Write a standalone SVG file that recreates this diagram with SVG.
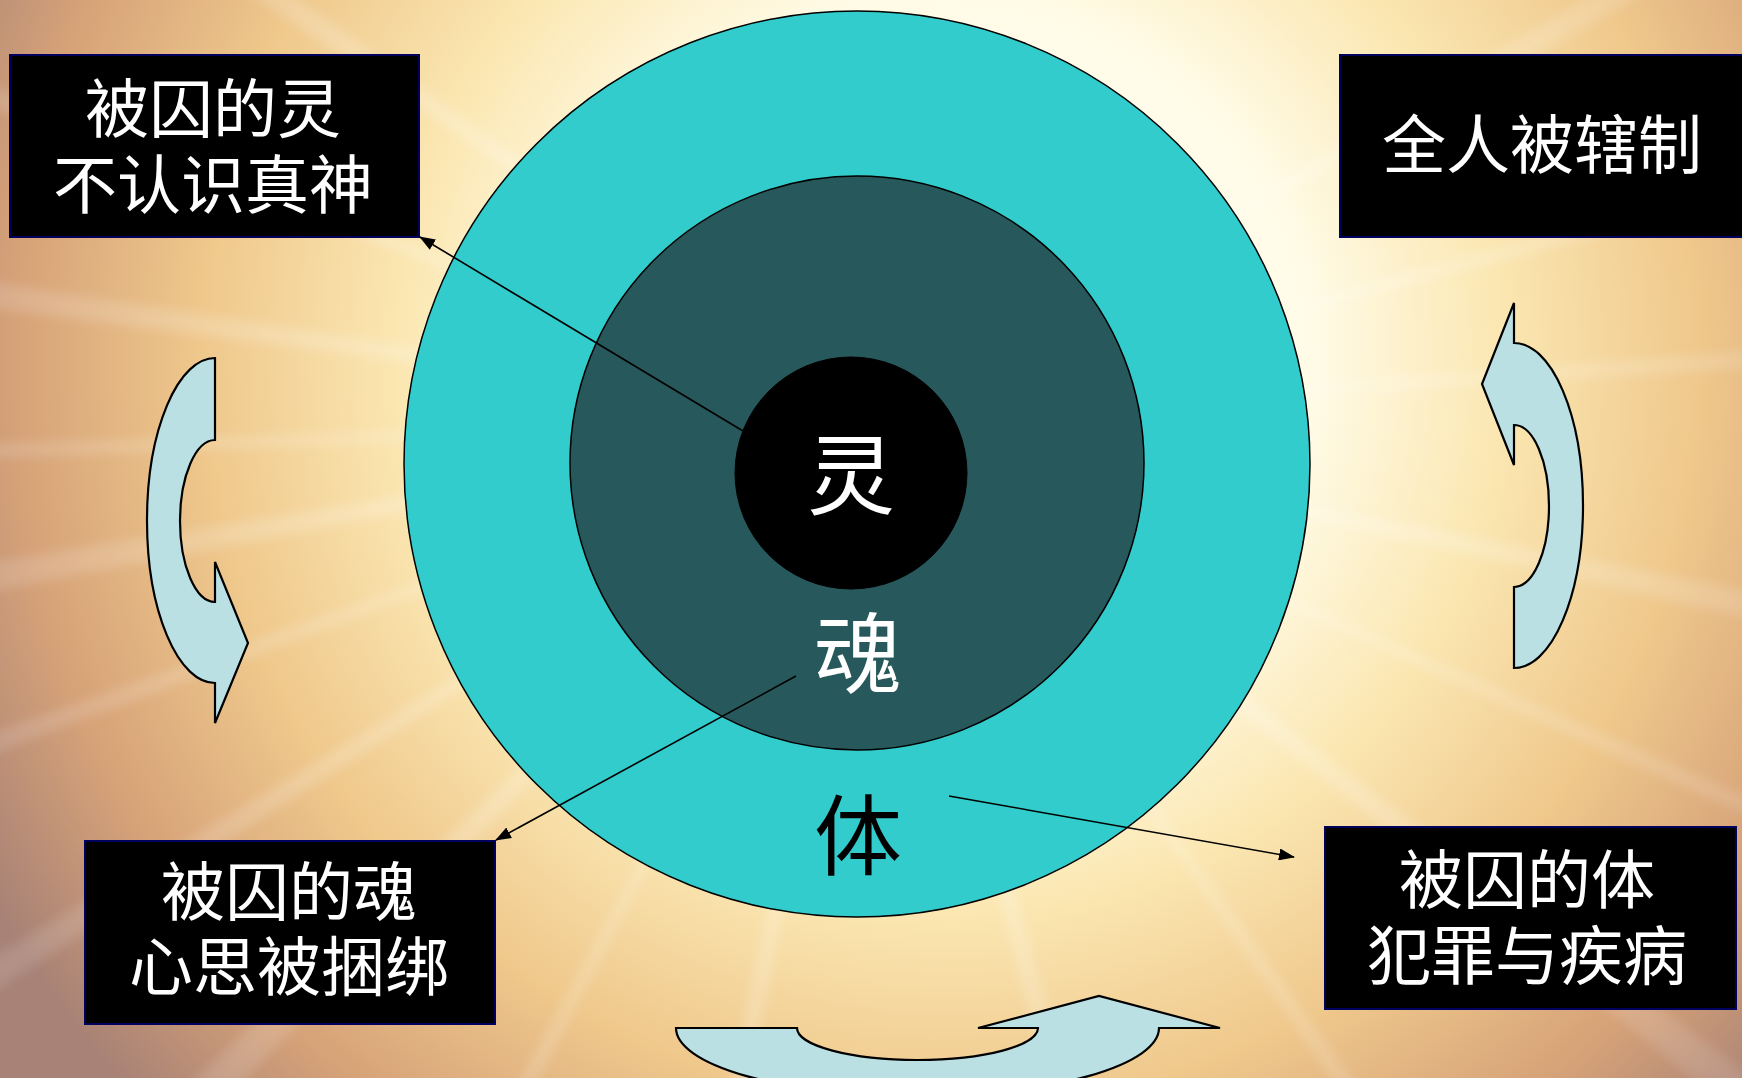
<svg xmlns="http://www.w3.org/2000/svg" xmlns:xlink="http://www.w3.org/1999/xlink" width="1742" height="1078" viewBox="0 0 1742 1078">
  <defs>
    <radialGradient id="bg" gradientUnits="userSpaceOnUse" cx="950" cy="360" r="1100">
      <stop offset="0" stop-color="#ffffff"/>
      <stop offset="0.33" stop-color="#fffbe6"/>
      <stop offset="0.5" stop-color="#fbe7b2"/>
      <stop offset="0.68" stop-color="#efc88c"/>
      <stop offset="0.85" stop-color="#d6a278"/>
      <stop offset="1" stop-color="#a88276"/>
    </radialGradient>
    <linearGradient id="rayg" x1="0" y1="0" x2="1600" y2="0" gradientUnits="userSpaceOnUse">
      <stop offset="0" stop-color="#ffffff" stop-opacity="0"/>
      <stop offset="0.3" stop-color="#ffffff" stop-opacity="0.5"/>
      <stop offset="1" stop-color="#ffffff" stop-opacity="0.05"/>
    </linearGradient>
    <filter id="blur" x="-20%" y="-20%" width="140%" height="140%">
      <feGaussianBlur stdDeviation="6"/>
    </filter>
    <path id="ray" d="M0,0 L1600,-20 L1600,20 Z" fill="url(#rayg)"/>
    <marker id="ah" markerUnits="userSpaceOnUse" markerWidth="16" markerHeight="12" viewBox="0 0 16 12" refX="15" refY="6" orient="auto">
      <path d="M0,0 L16,6 L0,12 Z" fill="#000"/>
    </marker>
    <style>
      .box { fill: #000000; stroke: #00005e; stroke-width: 2; }
      .lbl { fill: #ffffff; font-family: 'Noto Sans CJK SC', 'Noto Sans CJK TC', sans-serif; font-size: 64px; text-anchor: middle; }
      .core { font-family: 'Noto Sans CJK SC', 'Noto Sans CJK TC', sans-serif; font-size: 88px; text-anchor: middle; }
      .curve { fill: #bbe0e3; stroke: #000000; stroke-width: 2.2; stroke-linejoin: miter; }
      .conn { stroke: #000000; stroke-width: 1.6; fill: none; marker-end: url(#ah); }
    </style>
  </defs>

  <!-- background -->
  <rect x="0" y="0" width="1742" height="1078" fill="url(#bg)"/>
  <g opacity="0.45" filter="url(#blur)">
    <use xlink:href="#ray" transform="translate(880,420) rotate(-4) scale(1,0.8)"/>
    <use xlink:href="#ray" transform="translate(880,420) rotate(12) scale(1,1.2)"/>
    <use xlink:href="#ray" transform="translate(880,420) rotate(24) scale(1,0.7)"/>
    <use xlink:href="#ray" transform="translate(880,420) rotate(38) scale(1,1.4)"/>
    <use xlink:href="#ray" transform="translate(880,420) rotate(55) scale(1,0.8)"/>
    <use xlink:href="#ray" transform="translate(880,420) rotate(75) scale(1,1.3)"/>
    <use xlink:href="#ray" transform="translate(880,420) rotate(102) scale(1,1.2)"/>
    <use xlink:href="#ray" transform="translate(880,420) rotate(118) scale(1,0.8)"/>
    <use xlink:href="#ray" transform="translate(880,420) rotate(135) scale(1,1.5)"/>
    <use xlink:href="#ray" transform="translate(880,420) rotate(148) scale(1,1.1)"/>
    <use xlink:href="#ray" transform="translate(880,420) rotate(160) scale(1,0.8)"/>
    <use xlink:href="#ray" transform="translate(880,420) rotate(170) scale(1,1.3)"/>
    <use xlink:href="#ray" transform="translate(880,420) rotate(178) scale(1,0.7)"/>
    <use xlink:href="#ray" transform="translate(880,420) rotate(188) scale(1,1.2)"/>
    <use xlink:href="#ray" transform="translate(880,420) rotate(200) scale(1,0.9)"/>
    <use xlink:href="#ray" transform="translate(880,420) rotate(215) scale(1,1.3)"/>
    <use xlink:href="#ray" transform="translate(880,420) rotate(330) scale(1,1.2)"/>
    <use xlink:href="#ray" transform="translate(880,420) rotate(345) scale(1,0.9)"/>
  </g>

  <!-- curved arrows -->
  <g id="arrow-left">
    <path class="curve" d="M215,358 A68,162.5 0 0 0 215,683 L215,723 L248,643 L215,562 L215,602 A35,81 0 0 1 215,440 Z"/>
  </g>
  <g id="arrow-right">
    <path class="curve" d="M1514,303 L1482,384 L1514,465 L1514,425 A35,81 0 0 1 1514,587 L1514,668 A69,162.5 0 0 0 1514,343 Z"/>
  </g>
  <g id="arrow-bottom">
    <path class="curve" d="M676,1028 L797,1028 A120.5,32 0 0 0 1038,1028 L978,1028 L1099,996 L1220,1028 L1159,1028 A241.5,68 0 0 1 676,1028 Z"/>
  </g>

  <!-- concentric circles -->
  <g id="body">
    <circle cx="857" cy="464" r="453" fill="#33cccc" stroke="#000" stroke-width="1.5"/>
  </g>
  <g id="soul">
    <circle cx="857" cy="463" r="287" fill="#27585c" stroke="#000" stroke-width="1.5"/>
  </g>
  <g id="spirit">
    <circle cx="851" cy="473" r="116" fill="#000000" stroke="#000" stroke-width="1"/>
  </g>
  <g id="core-labels">
    <text class="core" x="851" y="507" fill="#ffffff">灵</text>
    <text class="core" x="858" y="686" fill="#ffffff">魂</text>
    <text class="core" x="858" y="868" fill="#000000">体</text>
  </g>

  <!-- connectors -->
  <g id="connectors">
    <line class="conn" x1="743" y1="431" x2="420" y2="237"/>
    <line class="conn" x1="796" y1="676" x2="496" y2="840"/>
    <line class="conn" x1="949" y1="796" x2="1294" y2="857"/>
  </g>

  <!-- boxes -->
  <g id="box-spirit">
    <rect class="box" x="10" y="55" width="409" height="182"/>
    <text class="lbl" x="213" y="132">被囚的灵</text>
    <text class="lbl" x="213" y="208">不认识真神</text>
  </g>
  <g id="box-whole">
    <rect class="box" x="1340" y="55" width="410" height="182"/>
    <text class="lbl" x="1542" y="168">全人被辖制</text>
  </g>
  <g id="box-soul">
    <rect class="box" x="85" y="841" width="410" height="183"/>
    <text class="lbl" x="289" y="915">被囚的魂</text>
    <text class="lbl" x="289" y="990">心思被捆绑</text>
  </g>
  <g id="box-body">
    <rect class="box" x="1325" y="827" width="411" height="182"/>
    <text class="lbl" x="1527" y="903">被囚的体</text>
    <text class="lbl" x="1527" y="979">犯罪与疾病</text>
  </g>
</svg>
